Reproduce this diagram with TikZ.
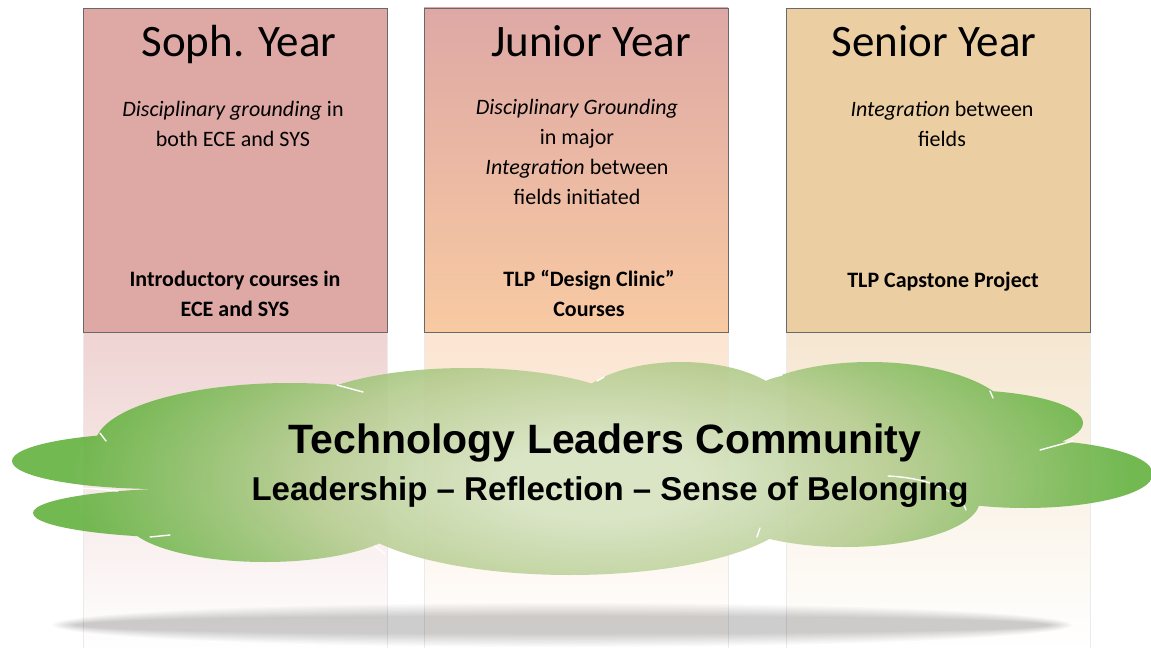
\documentclass[tikz,border=0pt]{standalone}
\usepackage{fontspec}
\setmainfont{Carlito}
\newfontfamily\cloudfont{Liberation Sans}
\usepackage{tikz}

\definecolor{sophfill}{RGB}{222,168,165}
\definecolor{junfill}{RGB}{248,202,162}
\definecolor{senfill}{RGB}{235,206,162}
\definecolor{boxline}{RGB}{105,105,105}
\definecolor{cloudlight}{RGB}{215,228,195}
\definecolor{cloudmid}{RGB}{183,205,145}
\definecolor{clouddark}{RGB}{100,178,64}

% 25bp is the rim of the shaded area
\pgfdeclareradialshading{cloudglow}{\pgfpoint{0bp}{0bp}}{%
  color(0bp)=(cloudlight); color(4bp)=(cloudlight); color(12bp)=(cloudmid);
  color(22bp)=(clouddark); color(50bp)=(clouddark)}

\begin{document}
\begin{tikzpicture}[
            x=1pt, y=-1pt,
            yearbox/.style={draw=boxline, line width=0.9pt,
                minimum width=304pt, minimum height=324pt, inner sep=0pt},
            yeartitle/.style={anchor=base, inner sep=0pt,
                font=\fontsize{45}{54}\selectfont},
            yearnote/.style={anchor=base, inner sep=0pt, align=center,
                font=\fontsize{22}{30}\selectfont},
            yearcourse/.style={yearnote, font=\fontsize{22}{30}\selectfont\bfseries},
            reflection/.style={top color=#1!50!white, middle color=white,
                bottom color=white},
            refledge/.style={draw=gray!16, line width=0.8pt},
            cloudseam/.style={draw=white, line width=1.4pt, line cap=round}
        ]
        \fill[white] (0,0) rectangle (1151,655);
        \useasboundingbox (0,0) rectangle (1151,655);

        % mirrored boxes fading out under the cloud
        \shade[reflection=sophfill] (83,332) rectangle (387,650);
        \shade[reflection=junfill] (424,332) rectangle (728,650);
        \shade[reflection=senfill] (786,332) rectangle (1090,650);
        \foreach \xe in {83,387,424,728,786,1090}
            \draw[refledge] (\xe,332) -- (\xe,648);

        % soft shadow
        \foreach \i in {0,...,9}
            \fill[black, opacity=0.018] (562,625)
                ellipse [x radius={510-2.5*\i}, y radius={22-1.4*\i}];

        % the cloud: lobes clip one wide glow
        \begin{scope}
            \clip
                (600,470) ellipse [x radius=420, y radius=70]
                (160,461) ellipse [x radius=148, y radius=28]
                (200,513) ellipse [x radius=167, y radius=25]
                (290,445) ellipse [x radius=195, y radius=62]
                (467,420) ellipse [x radius=175, y radius=52]
                (681,415) ellipse [x radius=111, y radius=53]
                (870,425) ellipse [x radius=146, y radius=63]
                (960,423) ellipse [x radius=123, y radius=33]
                (1025,474) ellipse [x radius=128, y radius=34]
                (845,500) ellipse [x radius=135, y radius=47]
                (570,505) ellipse [x radius=228, y radius=70]
                (265,518) ellipse [x radius=140, y radius=44];
            \shade[shading=cloudglow, fill opacity=0.9]
                (0,240) rectangle (1200,720);
        \end{scope}
        \draw[cloudseam] (100,433) -- (106,441);
        \draw[cloudseam] (60,489) .. controls (90,488) .. (118,491);
        \draw[cloudseam] (150,537) -- (170,535);
        \draw[cloudseam] (337,385) -- (363,392);
        \draw[cloudseam] (375,546) -- (385,554);
        \draw[cloudseam] (597,381) -- (604,377);
        \draw[cloudseam] (766,379) -- (782,375);
        \draw[cloudseam] (990,391) -- (993,398);
        \draw[cloudseam] (1040,450) -- (1073,441);
        \draw[cloudseam] (888,476) .. controls (930,478) and (960,492) .. (966,510);
        \draw[cloudseam] (757,537) -- (760,528);

        % year boxes
        \node[yearbox, fill=sophfill] (soph) at (235,170) {};
        \shade[top color=sophfill, bottom color=junfill] (424,8) rectangle (728,332);
        \node[yearbox] (junior) at (576,170) {};
        \node[yearbox, fill=senfill] (senior) at (938,170) {};

        \node[yeartitle] (sophtitle) at (239,57) {Soph. Year};
        \node[yeartitle] (juniortitle) at (591,57) {Junior Year};
        \node[yeartitle] (seniortitle) at (934,57) {Senior Year};

        % multi-line nodes sit on their last baseline
        \node[yearnote] (sophnote) at (233,147)
            {\textit{Disciplinary grounding} in\\both ECE and SYS};
        \node[yearnote] (juniornote) at (577,205)
            {\textit{Disciplinary Grounding}\\in major\\\textit{Integration} between\\fields initiated};
        \node[yearnote] (seniornote) at (942,147)
            {\textit{Integration} between\\fields};

        \node[yearcourse] (sophcourse) at (235,316)
            {Introductory courses in\\ECE and SYS};
        \node[yearcourse] (juniorcourse) at (589,316)
            {TLP “Design Clinic”\\Courses};
        \node[yearcourse] (seniorcourse) at (943,287)
            {TLP Capstone Project};

        \node[anchor=base, inner sep=0pt, font=\cloudfont\bfseries\fontsize{41}{49}\selectfont]
            (community) at (605,453) {Technology Leaders Community};
        \node[anchor=base, inner sep=0pt, font=\cloudfont\bfseries\fontsize{33}{40}\selectfont]
            (values) at (610,500) {Leadership – Reflection – Sense of Belonging};
    \end{tikzpicture}
\end{document}
